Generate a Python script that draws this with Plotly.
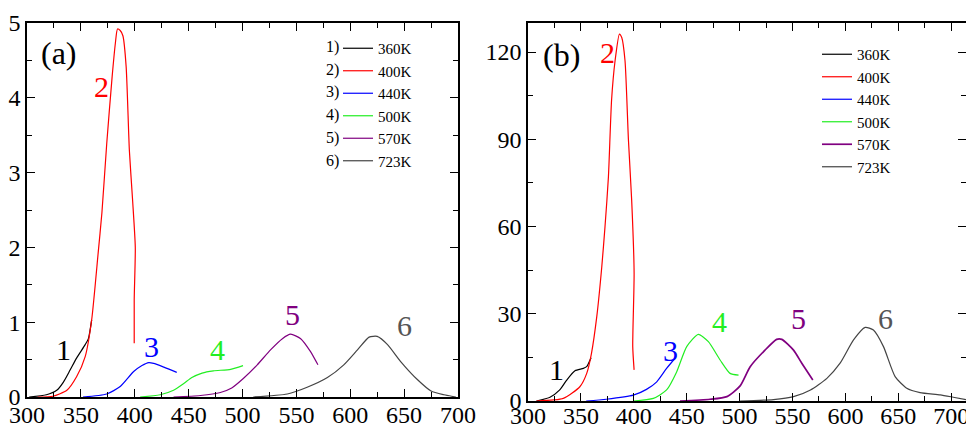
import plotly.graph_objects as go

# ---------------- DATA ----------------
series_names = ["360K", "400K", "440K", "500K", "570K", "723K"]
series_colors = ["#000000", "#ff0000", "#0000ff", "#22ee22", "#800080", "#444444"]

# Panel (a)
a1_x = [302, 318, 327.6, 333.8, 340, 346, 354, 357, 360]
a1_y = [0, 0.03, 0.09, 0.2, 0.36, 0.52, 0.7, 0.78, 1.03]
a2_x = [310, 324, 337, 346, 354, 360, 366, 369.5, 374, 379, 382, 384, 386.5, 389, 392, 395, 398, 400.5, 399.5, 399.5]
a2_y = [0, 0.01, 0.09, 0.27, 0.54, 1.03, 1.92, 2.46, 3.39, 4.28, 4.73, 4.92, 4.9, 4.83, 4.42, 3.3, 2.63, 2.0, 1.3, 0.72]
a3_x = [352, 374, 386.5, 399, 406.7, 413, 417.5, 427, 439]
a3_y = [0, 0.04, 0.14, 0.34, 0.42, 0.46, 0.45, 0.4, 0.33]
a4_x = [405, 423.7, 436, 445.5, 453, 462.5, 473, 489, 500.5]
a4_y = [0, 0.03, 0.09, 0.18, 0.26, 0.32, 0.35, 0.37, 0.42]
a5_x = [436, 461, 479.5, 490, 501, 513.7, 526, 537, 544.6, 554, 563, 570]
a5_y = [0, 0.02, 0.06, 0.12, 0.25, 0.43, 0.63, 0.78, 0.84, 0.78, 0.61, 0.43]
a6_x = [510, 541.6, 560, 578.8, 594, 606.7, 617.5, 625, 634.6, 647, 662.5, 675, 687, 698]
a6_y = [0, 0.04, 0.13, 0.26, 0.43, 0.63, 0.8, 0.81, 0.7, 0.47, 0.23, 0.08, 0.03, 0]

# Panel (b)
b1_x = [308, 320.8, 330, 336.6, 344.4, 352.3, 355.4, 359.6]
b1_y = [0, 1.3, 3.8, 7.2, 10.4, 11.2, 11.8, 14.9]
b2_x = [308, 333.4, 349, 355.5, 360, 365, 369.7, 372.8, 376, 379, 382.3, 386.4, 388.6, 391.7, 394.9, 398, 400.3, 399, 400.3]
b2_y = [0, 0.9, 4.9, 9.5, 16.4, 29, 46, 60, 77, 103.5, 117, 126.2, 125, 117, 90, 69, 44, 18.7, 10.7]
b3_x = [355, 374, 399.6, 412, 421.7, 431, 439]
b3_y = [0, 0.6, 2.0, 4.0, 6.6, 11.2, 14.7]
b4_x = [399.6, 418.5, 431, 440.5, 450, 461, 470.5, 481.6, 491, 499]
b4_y = [0, 0.9, 3.8, 10, 18.7, 22.9, 20.4, 14.1, 9.5, 8.9]
b5_x = [443.7, 472, 488, 500.5, 510, 524, 535, 539.9, 551, 558.8, 569.2]
b5_y = [0, 0.6, 1.5, 5.2, 11.8, 17.5, 21.2, 21.2, 17.5, 13, 7.2]
b6_x = [500.5, 532, 551, 567, 582.5, 595, 607.7, 618.7, 626.5, 636, 647, 658, 670.6, 689.6, 702, 714]
b6_y = [0, 0.5, 1.5, 3.8, 7.8, 13, 21, 25.3, 24.4, 18.7, 8.4, 4.4, 2.9, 2.1, 1.3, 0.5]

a_x = [a1_x, a2_x, a3_x, a4_x, a5_x, a6_x]
a_y = [a1_y, a2_y, a3_y, a4_y, a5_y, a6_y]
b_x = [b1_x, b2_x, b3_x, b4_x, b5_x, b6_x]
b_y = [b1_y, b2_y, b3_y, b4_y, b5_y, b6_y]

curve_labels = ["1", "2", "3", "4", "5", "6"]
label_colors = ["#000000", "#ff0000", "#0000ff", "#22ee22", "#800080", "#555555"]
a_label_x = [333.8, 369.5, 416, 476.5, 546.8, 650]
a_label_y = [0.63, 4.15, 0.67, 0.63, 1.10, 0.96]
b_label_x = [326.5, 374.7, 435, 480.6, 555.3, 637.6]
b_label_y = [10.7, 120, 17.5, 27.2, 28.5, 28.5]
legend_prefix = ["1)", "2)", "3)", "4)", "5)", "6)"]

FONT = "Liberation Serif"

fig = go.Figure()
for i in range(6):
    fig.add_trace(go.Scatter(x=a_x[i], y=a_y[i], mode="lines", name=series_names[i],
                             line=dict(color=series_colors[i], width=1.2, shape="spline", smoothing=0.6),
                             xaxis="x", yaxis="y", legend="legend"))
for i in range(6):
    fig.add_trace(go.Scatter(x=b_x[i], y=b_y[i], mode="lines", name=series_names[i],
                             line=dict(color=series_colors[i], width=1.7 if i == 4 else 1.2,
                                       shape="spline", smoothing=0.6),
                             xaxis="x2", yaxis="y2", legend="legend2"))

W, H = 966, 430

def ax_common():
    return dict(showline=True, linecolor="#000", linewidth=1.6, mirror="ticks",
                ticks="inside", ticklen=8, tickwidth=1.4, tickcolor="#000",
                showgrid=False, zeroline=False, automargin=False,
                ticklabeloverflow="allow",
                tickfont=dict(family=FONT, size=24, color="#000"))

minor_x = dict(dtick=25, ticks="inside", ticklen=5, tickcolor="#000", tickwidth=1.2)
xa = ax_common(); xa.update(domain=[27 / W, 458 / W], range=[300, 700], tickmode="linear",
                            tick0=300, dtick=50, anchor="y", minor=minor_x, ticklabelstandoff=-5)
ya = ax_common(); ya.update(domain=[(H - 397) / H, (H - 23) / H], range=[0, 5], tickmode="linear",
                            tick0=0, dtick=1, anchor="x",
                            minor=dict(dtick=0.5, ticks="inside", ticklen=5, tickcolor="#000", tickwidth=1.2))
xb = ax_common(); xb.update(domain=[528 / W, 1.0], range=[300, 714], tickmode="linear",
                            tick0=300, dtick=50, anchor="y2", minor=minor_x, ticklabelstandoff=-8)
yb = ax_common(); yb.update(domain=[(H - 401) / H, (H - 23) / H], range=[0, 130], tickmode="linear",
                            tick0=0, dtick=30, anchor="x2",
                            minor=dict(dtick=15, ticks="inside", ticklen=5, tickcolor="#000", tickwidth=1.2))

annotations = []
annotations.append(dict(x=329.8, y=4.6, xref="x", yref="y", text="(a)", showarrow=False,
                        font=dict(family=FONT, size=32, color="#000")))
annotations.append(dict(x=332, y=119, xref="x2", yref="y2", text="(b)", showarrow=False,
                        font=dict(family=FONT, size=32, color="#000")))
for i in range(6):
    annotations.append(dict(x=a_label_x[i], y=a_label_y[i], xref="x", yref="y", text=curve_labels[i],
                            showarrow=False, font=dict(family=FONT, size=30, color=label_colors[i])))
    annotations.append(dict(x=b_label_x[i], y=b_label_y[i], xref="x2", yref="y2", text=curve_labels[i],
                            showarrow=False, font=dict(family=FONT, size=30, color=label_colors[i])))
    annotations.append(dict(x=332 / W, y=(H - (47 + 22.7 * i)) / H, xref="paper", yref="paper",
                            xanchor="center", yanchor="middle",
                            text=legend_prefix[i], showarrow=False,
                            font=dict(family=FONT, size=16, color="#000")))

fig.update_layout(
    width=W, height=H,
    margin=dict(l=0, r=0, t=0, b=0),
    paper_bgcolor="white", plot_bgcolor="white",
    xaxis=xa, yaxis=ya, xaxis2=xb, yaxis2=yb,
    annotations=annotations,
    legend=dict(x=338 / W, y=(H - 32) / H, xanchor="left", yanchor="top",
                bgcolor="rgba(0,0,0,0)", font=dict(family=FONT, size=15, color="#000")),
    legend2=dict(x=817 / W, y=(H - 38) / H, xanchor="left", yanchor="top",
                 bgcolor="rgba(0,0,0,0)", font=dict(family=FONT, size=15, color="#000")),
)

fig.write_html("out.html")
